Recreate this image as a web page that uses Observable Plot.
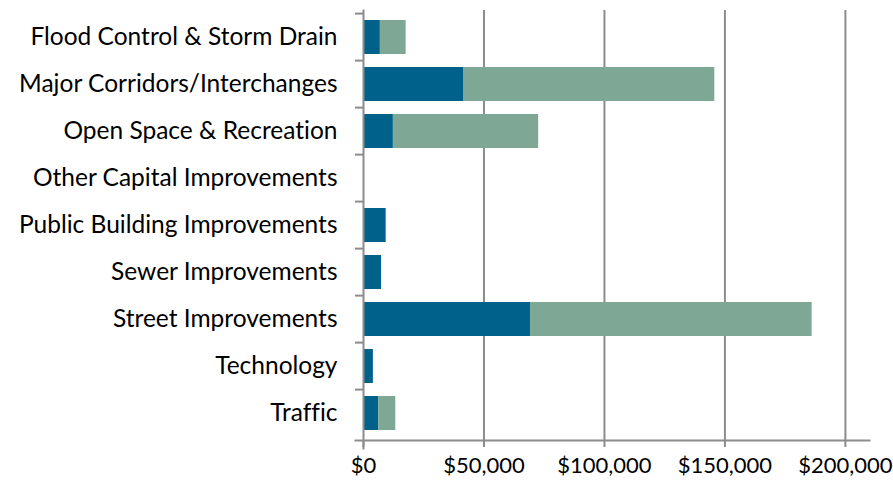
<!DOCTYPE html>
<html>
<head>
<meta charset="utf-8">
<script src="https://cdn.jsdelivr.net/npm/d3@7"></script>
<script src="https://cdn.jsdelivr.net/npm/@observablehq/plot@0.6"></script>
<style>
  html, body { margin: 0; padding: 0; background: #fff; }
  svg text { font-variant-ligatures: none; }
</style>
</head>
<body>
<div id="chart"></div>
<script>
const categories = [
  "Flood Control & Storm Drain",
  "Major Corridors/Interchanges",
  "Open Space & Recreation",
  "Other Capital Improvements",
  "Public Building Improvements",
  "Sewer Improvements",
  "Street Improvements",
  "Technology",
  "Traffic"
];
const seriesNames = ["Series 1", "Series 2"];
const series1 = [7000, 41500, 12400, 200, 9400, 7500, 69300, 4100, 6300];
const series2 = [10700, 104300, 60300, 0, 0, 0, 116900, 0, 7100];
const xTicks = [0, 50000, 100000, 150000, 200000];
const colors = ["#00618a", "#7fa795"];

const data = [];
categories.forEach((c, i) => {
  data.push({category: c, series: seriesNames[0], value: series1[i]});
  data.push({category: c, series: seriesNames[1], value: series2[i]});
});

const W = 893, H = 483, MT = 10, MB = 43, ML = 363, MR = 24;
const step = (H - MT - MB) / categories.length;
const axisColor = "#8c8c8c";

const chart = Plot.plot({
  width: W, height: H,
  marginTop: MT, marginBottom: MB, marginLeft: ML, marginRight: MR,
  style: {fontFamily: "Lato, 'Open Sans', sans-serif", fontSize: "22px", color: "#000", background: "#fff"},
  x: {domain: [0, 210000], label: null},
  y: {domain: categories, paddingInner: 0.27, paddingOuter: 0.135, label: null},
  color: {domain: seriesNames, range: colors},
  marks: [
    Plot.ruleX(xTicks.filter(d => d > 0), {stroke: axisColor, strokeWidth: 2}),
    Plot.barX(data, {y: "category", x: "value", fill: "series", order: seriesNames}),
    Plot.frame({anchor: "bottom", insetLeft: -8, stroke: axisColor, strokeWidth: 2}),
    Plot.frame({anchor: "left", insetBottom: -8, stroke: axisColor, strokeWidth: 2}),
    Plot.ruleY(categories, {y: d => d, x1: 0, x2: 0, insetLeft: -8, dy: -step / 2, stroke: axisColor, strokeWidth: 2}),
    Plot.axisX({ticks: xTicks, tickFormat: d => "$" + d3.format(",")(d), tickSize: 7, tickPadding: 10, fontSize: 22, stroke: axisColor, strokeWidth: 2, fill: "#000", label: null}),
    Plot.axisY({tickSize: 0, tickPadding: 26, fontSize: 24.5, fill: "#000", label: null})
  ]
});
document.getElementById("chart").appendChild(chart);
</script>
</body>
</html>
